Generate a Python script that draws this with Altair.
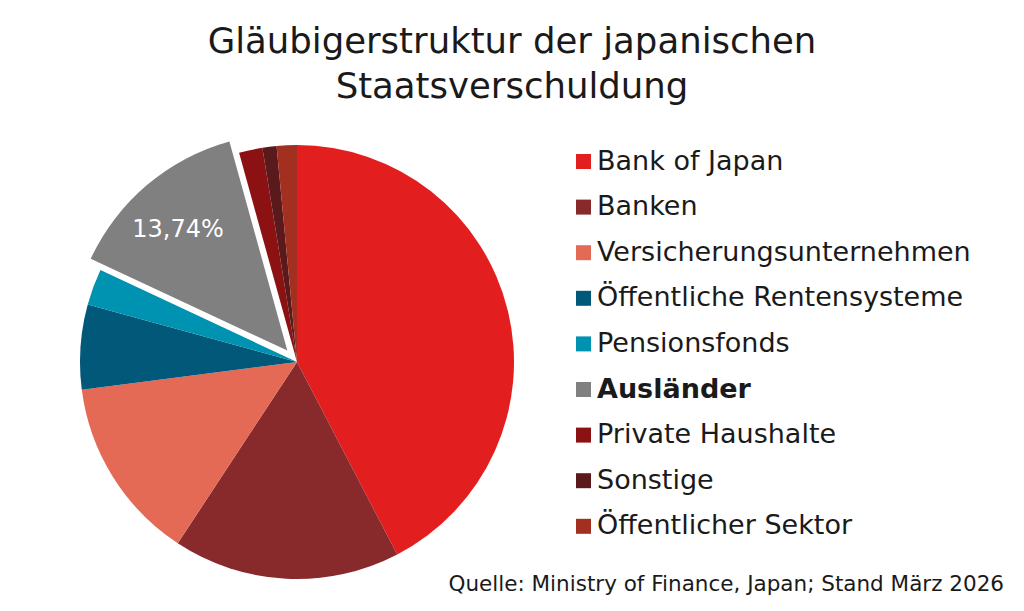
import math
import altair as alt
import pandas as pd

# ---------------- data ----------------
categories = [
    "Bank of Japan",
    "Banken",
    "Versicherungsunternehmen",
    "Öffentliche Rentensysteme",
    "Pensionsfonds",
    "Ausländer",
    "Private Haushalte",
    "Sonstige",
    "Öffentlicher Sektor",
]
values = [42.36, 16.9, 13.7, 6.3, 2.7, 13.74, 1.75, 1.05, 1.5]
colors = [
    "#e31e1f",
    "#88292b",
    "#e46a56",
    "#015879",
    "#0093b1",
    "#808080",
    "#8c1112",
    "#5a1a1c",
    "#a22f1f",
]
highlight = "Ausländer"
title_lines = ["Gläubigerstruktur der japanischen", "Staatsverschuldung"]
source_text = ["Quelle: Ministry of Finance, Japan; Stand März 2026"]

df = pd.DataFrame({"kategorie": categories, "wert": values, "order": list(range(len(categories)))})
total = sum(values)

# ---------------- layout / style ----------------
FONT = "DejaVu Sans"
TEXT_COLOR = "#1a1a1a"
W, H = 1008, 483
CX, CY = 289, 242
R = 217
EXPLODE = 15

idx = categories.index(highlight)
mid_angle = (sum(values[:idx]) + values[idx] / 2) / total * 2 * math.pi
ex_dx = EXPLODE * math.sin(mid_angle)
ex_dy = -EXPLODE * math.cos(mid_angle)

base = (
    alt.Chart(df)
    .transform_window(cum="sum(wert)", sort=[alt.SortField("order")], frame=[None, 0])
    .transform_calculate(
        start="datum.cum - datum.wert",
        mid="datum.cum - datum.wert / 2",
        label="replace(format(datum.wert, '.2f'), '.', ',') + '%'",
    )
)

theta_scale = alt.Scale(domain=[0, total])

legend = alt.Legend(
    title=None,
    orient="none",
    legendX=562,
    legendY=28,
    symbolType="square",
    symbolSize=225,
    symbolStrokeWidth=0,
    labelFont=FONT,
    labelFontSize=27,
    labelColor=TEXT_COLOR,
    labelOffset=0,
    labelLimit=700,
    rowPadding=17.6,
    padding=0,
    labelFontWeight={"expr": "datum.label === 'Ausländer' ? 'bold' : 'normal'"},
)

color = alt.Color(
    "kategorie:N",
    scale=alt.Scale(domain=categories, range=colors),
    legend=legend,
)

pie = (
    base.transform_filter(alt.datum.kategorie != highlight)
    .mark_arc(outerRadius=R)
    .encode(
        theta=alt.Theta("start:Q", stack=None, scale=theta_scale),
        theta2="cum:Q",
        color=color,
        x=alt.value(CX),
        y=alt.value(CY),
    )
)

exploded = (
    base.transform_filter(alt.datum.kategorie == highlight)
    .mark_arc(outerRadius=R)
    .encode(
        theta=alt.Theta("start:Q", stack=None, scale=theta_scale),
        theta2="cum:Q",
        color=color,
        x=alt.value(CX + ex_dx),
        y=alt.value(CY + ex_dy),
    )
)

label = (
    base.transform_filter(alt.datum.kategorie == highlight)
    .mark_text(radius=163, font=FONT, fontSize=24, color="white", align="center", baseline="middle")
    .encode(
        theta=alt.Theta("mid:Q", stack=None, scale=theta_scale),
        text="label:N",
        x=alt.value(CX + ex_dx - 4),
        y=alt.value(CY + ex_dy + 4),
    )
)

source = (
    alt.Chart(pd.DataFrame({"quelle": source_text}))
    .mark_text(align="right", baseline="alphabetic", font=FONT, fontSize=21.5, color=TEXT_COLOR)
    .encode(text="quelle:N", x=alt.value(W - 12), y=alt.value(471))
)

chart = (
    alt.layer(pie, exploded, label, source)
    .properties(
        width=W,
        height=H,
        title=alt.Title(
            title_lines,
            font=FONT,
            fontSize=35.5,
            fontWeight="normal",
            color=TEXT_COLOR,
            lineHeight=45,
            anchor="middle",
            baseline="bottom",
            offset=-20,
            frame="group",
        ),
    )
    .configure(padding={"left": 0, "top": 112, "right": 0, "bottom": 0}, autosize=alt.AutoSizeParams(type="none"))
    .configure_view(stroke=None)
)

chart.save("out.html", embed_options={"renderer": "svg", "actions": False})
